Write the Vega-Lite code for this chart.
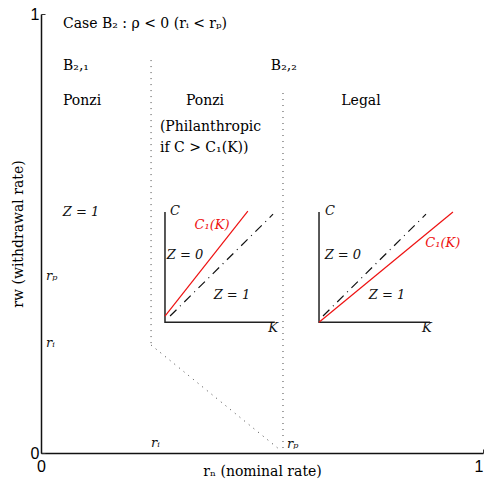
{
  "$schema": "https://vega.github.io/schema/vega-lite/v6.json",
  "width": 442,
  "height": 439,
  "autosize": {"type": "none"},
  "padding": {"left": 41, "top": 14, "right": 2, "bottom": 36},
  "config": {"view": {"stroke": null}, "background": "white"},
  "datasets": {
    "lines": [
      {"id": "v1", "kind": "dotted", "o": 0, "x": 0.249, "y": 0.895},
      {"id": "v1", "kind": "dotted", "o": 1, "x": 0.249, "y": 0.246},
      {"id": "d1", "kind": "dotted", "o": 0, "x": 0.249, "y": 0.246},
      {"id": "d1", "kind": "dotted", "o": 1, "x": 0.536, "y": 0.011},
      {"id": "v2", "kind": "dotted", "o": 0, "x": 0.5475, "y": 0.82},
      {"id": "v2", "kind": "dotted", "o": 1, "x": 0.5475, "y": 0.005},
      {"id": "a1", "kind": "axis", "o": 0, "x": 0.2805, "y": 0.549},
      {"id": "a1", "kind": "axis", "o": 1, "x": 0.2805, "y": 0.298},
      {"id": "a1", "kind": "axis", "o": 2, "x": 0.529, "y": 0.298},
      {"id": "a2", "kind": "axis", "o": 0, "x": 0.629, "y": 0.549},
      {"id": "a2", "kind": "axis", "o": 1, "x": 0.629, "y": 0.298},
      {"id": "a2", "kind": "axis", "o": 2, "x": 0.88, "y": 0.298},
      {"id": "r1", "kind": "red", "o": 0, "x": 0.2805, "y": 0.312},
      {"id": "r1", "kind": "red", "o": 1, "x": 0.468, "y": 0.551},
      {"id": "r2", "kind": "red", "o": 0, "x": 0.629, "y": 0.298},
      {"id": "r2", "kind": "red", "o": 1, "x": 0.932, "y": 0.549},
      {"id": "k1", "kind": "dashdot", "o": 0, "x": 0.292, "y": 0.312},
      {"id": "k1", "kind": "dashdot", "o": 1, "x": 0.525, "y": 0.544},
      {"id": "k2", "kind": "dashdot", "o": 0, "x": 0.638, "y": 0.312},
      {"id": "k2", "kind": "dashdot", "o": 1, "x": 0.871, "y": 0.544}
    ],
    "texts": [
      {"g": "main", "x": 0.0498, "y": 0.977, "label": "Case B₂ : ρ < 0 (rᵢ < rₚ)"},
      {"g": "main", "x": 0.0498, "y": 0.8815, "label": "B₂,₁"},
      {"g": "main", "x": 0.52, "y": 0.8815, "label": "B₂,₂"},
      {"g": "main", "x": 0.0498, "y": 0.802, "label": "Ponzi"},
      {"g": "main", "x": 0.269, "y": 0.743, "label": "(Philanthropic"},
      {"g": "main", "x": 0.269, "y": 0.695, "label": "if C > C₁(K))"},
      {"g": "mainc", "x": 0.371, "y": 0.802, "label": "Ponzi"},
      {"g": "mainc", "x": 0.724, "y": 0.802, "label": "Legal"},
      {"g": "ital", "x": 0.0905, "y": 0.549, "label": "Z = 1"},
      {"g": "ital", "x": 0.326, "y": 0.451, "label": "Z = 0"},
      {"g": "ital", "x": 0.432, "y": 0.36, "label": "Z = 1"},
      {"g": "ital", "x": 0.683, "y": 0.451, "label": "Z = 0"},
      {"g": "ital", "x": 0.783, "y": 0.36, "label": "Z = 1"},
      {"g": "ital", "x": 0.303, "y": 0.551, "label": "C"},
      {"g": "ital", "x": 0.654, "y": 0.551, "label": "C"},
      {"g": "ital", "x": 0.525, "y": 0.285, "label": "K"},
      {"g": "ital", "x": 0.873, "y": 0.285, "label": "K"},
      {"g": "red", "x": 0.387, "y": 0.519, "label": "C₁(K)"},
      {"g": "red", "x": 0.909, "y": 0.478, "label": "C₁(K)"},
      {"g": "small", "x": 0.0113, "y": 0.403, "label": "rₚ"},
      {"g": "small", "x": 0.0113, "y": 0.2506, "label": "rᵢ"},
      {"g": "small", "x": 0.249, "y": 0.0228, "label": "rᵢ"},
      {"g": "small", "x": 0.5566, "y": 0.0205, "label": "rₚ"}
    ]
  },
  "encoding": {
    "x": {
      "field": "x", "type": "quantitative",
      "scale": {"domain": [0, 1], "nice": false, "zero": false},
      "axis": {
        "values": [0, 1], "format": "d", "grid": false, "tickSize": -4, "tickColor": "#333", "domainColor": "#111", "domainWidth": 1.5,
        "labelFlush": false, "labelFont": "Liberation Sans", "labelFontSize": 16, "labelColor": "#000", "labelPadding": 9,
        "labelAlign": {"condition": {"test": "datum.value == 1", "value": "right"}, "value": "center"},
        "title": "rₙ (nominal rate)", "titleFont": "DejaVu Serif", "titleFontSize": 14, "titleFontWeight": "normal", "titleColor": "#000",
        "titleBaseline": "middle", "titleY": 18
      }
    },
    "y": {
      "field": "y", "type": "quantitative",
      "scale": {"domain": [0, 1], "nice": false, "zero": false},
      "axis": {
        "values": [0, 1], "format": "d", "grid": false, "tickSize": -4, "tickColor": "#333", "domainColor": "#111", "domainWidth": 1.5,
        "labelFlush": false, "labelFont": "Liberation Sans", "labelFontSize": 16, "labelColor": "#000", "labelPadding": 6,
        "title": "rw (withdrawal rate)", "titleFont": "DejaVu Serif", "titleFontSize": 14, "titleFontWeight": "normal", "titleColor": "#000",
        "titleBaseline": "middle", "titleX": -23, "titleY": 219.5
      }
    }
  },
  "layer": [
    {
      "data": {"name": "lines"},
      "transform": [{"filter": "datum.kind == 'dotted'"}],
      "mark": {"type": "line", "stroke": "#444", "strokeWidth": 1, "strokeDash": [1, 5]},
      "encoding": {"detail": {"field": "id"}, "order": {"field": "o"}}
    },
    {
      "data": {"name": "lines"},
      "transform": [{"filter": "datum.kind == 'axis'"}],
      "mark": {"type": "line", "stroke": "#222", "strokeWidth": 1.5},
      "encoding": {"detail": {"field": "id"}, "order": {"field": "o"}}
    },
    {
      "data": {"name": "lines"},
      "transform": [{"filter": "datum.kind == 'red'"}],
      "mark": {"type": "line", "stroke": "#ee1111", "strokeWidth": 1.2},
      "encoding": {"detail": {"field": "id"}, "order": {"field": "o"}}
    },
    {
      "data": {"name": "lines"},
      "transform": [{"filter": "datum.kind == 'dashdot'"}],
      "mark": {"type": "line", "stroke": "#111", "strokeWidth": 1.2, "strokeDash": [9, 5, 1, 5]},
      "encoding": {"detail": {"field": "id"}, "order": {"field": "o"}}
    },
    {
      "data": {"name": "texts"},
      "transform": [{"filter": "datum.g == 'main'"}],
      "mark": {"type": "text", "align": "left", "baseline": "middle", "font": "DejaVu Serif", "fontSize": 14, "color": "#000"},
      "encoding": {"text": {"field": "label"}}
    },
    {
      "data": {"name": "texts"},
      "transform": [{"filter": "datum.g == 'mainc'"}],
      "mark": {"type": "text", "align": "center", "baseline": "middle", "font": "DejaVu Serif", "fontSize": 14, "color": "#000"},
      "encoding": {"text": {"field": "label"}}
    },
    {
      "data": {"name": "texts"},
      "transform": [{"filter": "datum.g == 'ital'"}],
      "mark": {"type": "text", "align": "center", "baseline": "middle", "font": "DejaVu Serif", "fontStyle": "italic", "fontSize": 13, "color": "#111"},
      "encoding": {"text": {"field": "label"}}
    },
    {
      "data": {"name": "texts"},
      "transform": [{"filter": "datum.g == 'red'"}],
      "mark": {"type": "text", "align": "center", "baseline": "middle", "font": "DejaVu Serif", "fontStyle": "italic", "fontSize": 13, "color": "#ee1111"},
      "encoding": {"text": {"field": "label"}}
    },
    {
      "data": {"name": "texts"},
      "transform": [{"filter": "datum.g == 'small'"}],
      "mark": {"type": "text", "align": "left", "baseline": "middle", "font": "DejaVu Serif", "fontStyle": "italic", "fontSize": 13, "color": "#111"},
      "encoding": {"text": {"field": "label"}}
    }
  ]
}
